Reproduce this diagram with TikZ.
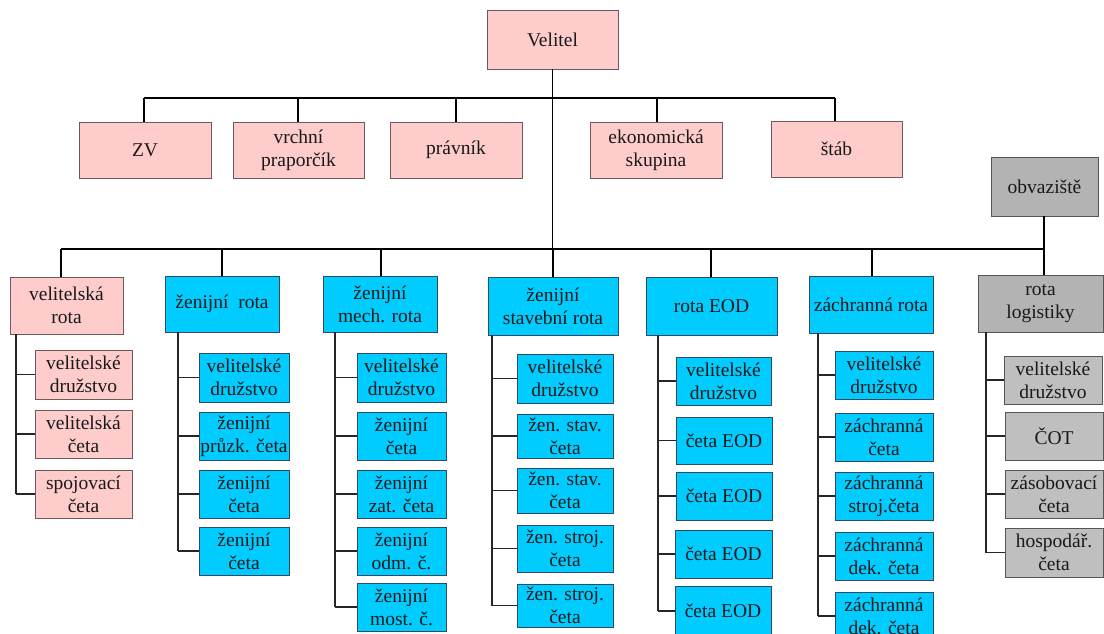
\documentclass[tikz,border=0pt]{standalone}
\usepackage{fontspec}
\setmainfont{Liberation Serif}
\newfontfamily\tnr{Liberation Serif}
\definecolor{pinkf}{HTML}{FFCCCC}
\definecolor{pinkd}{HTML}{6E5A5A}
\definecolor{cyanf}{HTML}{00CCFF}
\definecolor{cyand}{HTML}{2F4A66}
\definecolor{grayf}{HTML}{B3B3B3}
\definecolor{grays}{HTML}{BFBFBF}
\definecolor{grayd}{HTML}{555555}
\newcommand{\bx}[7]{\node[#2, minimum width={(#5-#3)*1pt}, minimum height={(#6-#4)*1pt}] (#1) at ({(#3+#5)/2},{(#4+#6)/2}) {#7};}
\tikzset{
  box/.style={draw, line width=0.8pt, inner sep=0.5pt, align=center, font=\tnr\fontsize{19.5}{23}\selectfont, text=black!90},
  pbox/.style={box, fill=pinkf, draw=pinkd},
  cbox/.style={box, fill=cyanf, draw=cyand},
  gbox/.style={box, fill=grayf, draw=grayd},
  sgbox/.style={box, fill=grays, draw=grayd},
  conn/.style={line width=1.3pt, black},
  subl/.style={line width=1.1pt, black!85},
}
\begin{document}
\begin{tikzpicture}[x=1pt,y=-1pt]
\clip (0,0) rectangle (1104,634);
\fill[white] (0,0) rectangle (1104,634);
% top level
\bx{vel}{pbox}{487}{10}{618}{69}{Velitel}
\bx{zv}{pbox}{79}{122}{211}{178}{ZV}
\bx{vp}{pbox}{233}{122}{364}{178}{vrchní\\praporčík}
\bx{pr}{pbox}{390}{122}{522}{178}{právník}
\bx{ek}{pbox}{590}{122}{722}{178}{ekonomická\\skupina}
\bx{st}{pbox}{771}{121}{902}{177}{štáb}
\bx{ob}{gbox}{991}{157}{1098}{216}{obvaziště}
% companies
\bx{c1}{pbox}{10}{277}{123}{334}{velitelská\\rota}
\bx{c2}{cbox}{165}{276}{279}{332}{ženijní\ \ rota}
\bx{c3}{cbox}{323}{276}{437}{332}{ženijní\\mech. rota}
\bx{c4}{cbox}{488}{277}{618}{335}{ženijní\\stavební rota}
\bx{c5}{cbox}{646}{277}{777}{335}{rota EOD}
\bx{c6}{cbox}{809}{276}{933}{333}{záchranná rota}
\bx{c7}{gbox}{978}{275}{1103}{332}{rota\\logistiky}
% column 1
\bx{a1}{pbox}{35}{350}{132}{399}{velitelské\\družstvo}
\bx{a2}{pbox}{35}{410}{132}{458}{velitelská\\četa}
\bx{a3}{pbox}{35}{470}{132}{518}{spojovací\\četa}
% column 2
\bx{b1}{cbox}{199}{353}{289}{402}{velitelské\\družstvo}
\bx{b2}{cbox}{199}{412}{289}{460}{ženijní\\průzk. četa}
\bx{b3}{cbox}{199}{470}{289}{518}{ženijní\\četa}
\bx{b4}{cbox}{199}{527}{289}{575}{ženijní\\četa}
% column 3
\bx{d1}{cbox}{357}{353}{446}{402}{velitelské\\družstvo}
\bx{d2}{cbox}{357}{412}{446}{460}{ženijní\\četa}
\bx{d3}{cbox}{357}{470}{446}{518}{ženijní\\zat. četa}
\bx{d4}{cbox}{357}{527}{446}{575}{ženijní\\odm. č.}
\bx{d5}{cbox}{357}{583}{446}{631}{ženijní\\most. č.}
% column 4
\bx{e1}{cbox}{517}{354}{613}{403}{velitelské\\družstvo}
\bx{e2}{cbox}{517}{414}{613}{458}{žen. stav.\\četa}
\bx{e3}{cbox}{517}{468}{613}{513}{žen. stav.\\četa}
\bx{e4}{cbox}{517}{525}{613}{572}{žen. stroj.\\četa}
\bx{e5}{cbox}{517}{584}{613}{627}{žen. stroj.\\četa}
% column 5
\bx{f1}{cbox}{676}{357}{771}{405}{velitelské\\družstvo}
\bx{f2}{cbox}{676}{417}{772}{464}{četa EOD}
\bx{f3}{cbox}{676}{472}{772}{520}{četa EOD}
\bx{f4}{cbox}{675}{530}{772}{578}{četa EOD}
\bx{f5}{cbox}{675}{586}{771}{636}{četa EOD}
% column 6
\bx{g1}{cbox}{835}{351}{933}{399}{velitelské\\družstvo}
\bx{g2}{cbox}{835}{413}{933}{461}{záchranná\\četa}
\bx{g3}{cbox}{835}{472}{933}{520}{záchranná\\stroj.četa}
\bx{g4}{cbox}{835}{532}{933}{580}{záchranná\\dek. četa}
\bx{g5}{cbox}{835}{592}{933}{640}{záchranná\\dek. četa}
% column 7
\bx{h1}{sgbox}{1004}{356}{1102}{404}{velitelské\\družstvo}
\bx{h2}{sgbox}{1005}{412}{1103}{460}{ČOT}
\bx{h3}{sgbox}{1005}{470}{1103}{518}{zásobovací\\četa}
\bx{h4}{sgbox}{1005}{528}{1103}{577}{hospodář.\\četa}
% top connectors
\coordinate (ta) at (144,98);
\coordinate (tb) at (298,98);
\coordinate (tc) at (456,98);
\coordinate (td) at (657,98);
\coordinate (te) at (835,98);
\coordinate (bus) at (0,249);
\draw[conn] (ta) -- (te);
\draw[conn] (ta) -- (ta |- zv.north);
\draw[conn] (tb) -- (tb |- vp.north);
\draw[conn] (tc) -- (tc |- pr.north);
\draw[conn] (td) -- (td |- ek.north);
\draw[conn] (te) -- (te |- st.north);
\draw[conn] (vel.south) -- (vel.south |- bus);
% company bus
\coordinate (ba) at (61,249);
\coordinate (bb) at (222,249);
\coordinate (bc) at (381,249);
\coordinate (bd) at (553,249);
\coordinate (be) at (711,249);
\coordinate (bf) at (872,249);
\coordinate (bg) at (1044,249);
\draw[conn] (ba) -- (bg);
\draw[conn] (ob.south -| bg) -- (bg);
\draw[conn] (ba) -- (ba |- c1.north);
\draw[conn] (bb) -- (bb |- c2.north);
\draw[conn] (bc) -- (bc |- c3.north);
\draw[conn] (bd) -- (bd |- c4.north);
\draw[conn] (be) -- (be |- c5.north);
\draw[conn] (bf) -- (bf |- c6.north);
\draw[conn] (bg) -- (bg |- c7.north);
% spines
\coordinate (s1) at (16,0);
\coordinate (s2) at (178,0);
\coordinate (s3) at (335,0);
\coordinate (s4) at (492,0);
\coordinate (s5) at (658,0);
\coordinate (s6) at (818,0);
\coordinate (s7) at (986,0);
\draw[subl] (s1 |- c1.south) -- (s1 |- a3.west);
\foreach \n in {a1,a2,a3} \draw[subl] (s1 |- \n.west) -- (\n.west);
\draw[subl] (s2 |- c2.south) -- (s2 |- b4.west);
\foreach \n in {b1,b2,b3,b4} \draw[subl] (s2 |- \n.west) -- (\n.west);
\draw[subl] (s3 |- c3.south) -- (s3 |- d5.west);
\foreach \n in {d1,d2,d3,d4,d5} \draw[subl] (s3 |- \n.west) -- (\n.west);
\draw[subl] (s4 |- c4.south) -- (s4 |- e5.west);
\foreach \n in {e1,e2,e3,e4,e5} \draw[subl] (s4 |- \n.west) -- (\n.west);
\draw[subl] (s5 |- c5.south) -- (s5 |- f5.west);
\foreach \n in {f1,f2,f3,f4,f5} \draw[subl] (s5 |- \n.west) -- (\n.west);
\draw[subl] (s6 |- c6.south) -- (s6 |- g5.west);
\foreach \n in {g1,g2,g3,g4,g5} \draw[subl] (s6 |- \n.west) -- (\n.west);
\draw[subl] (s7 |- c7.south) -- (s7 |- h4.west);
\foreach \n in {h1,h2,h3,h4} \draw[subl] (s7 |- \n.west) -- (\n.west);
\end{tikzpicture}
\end{document}
